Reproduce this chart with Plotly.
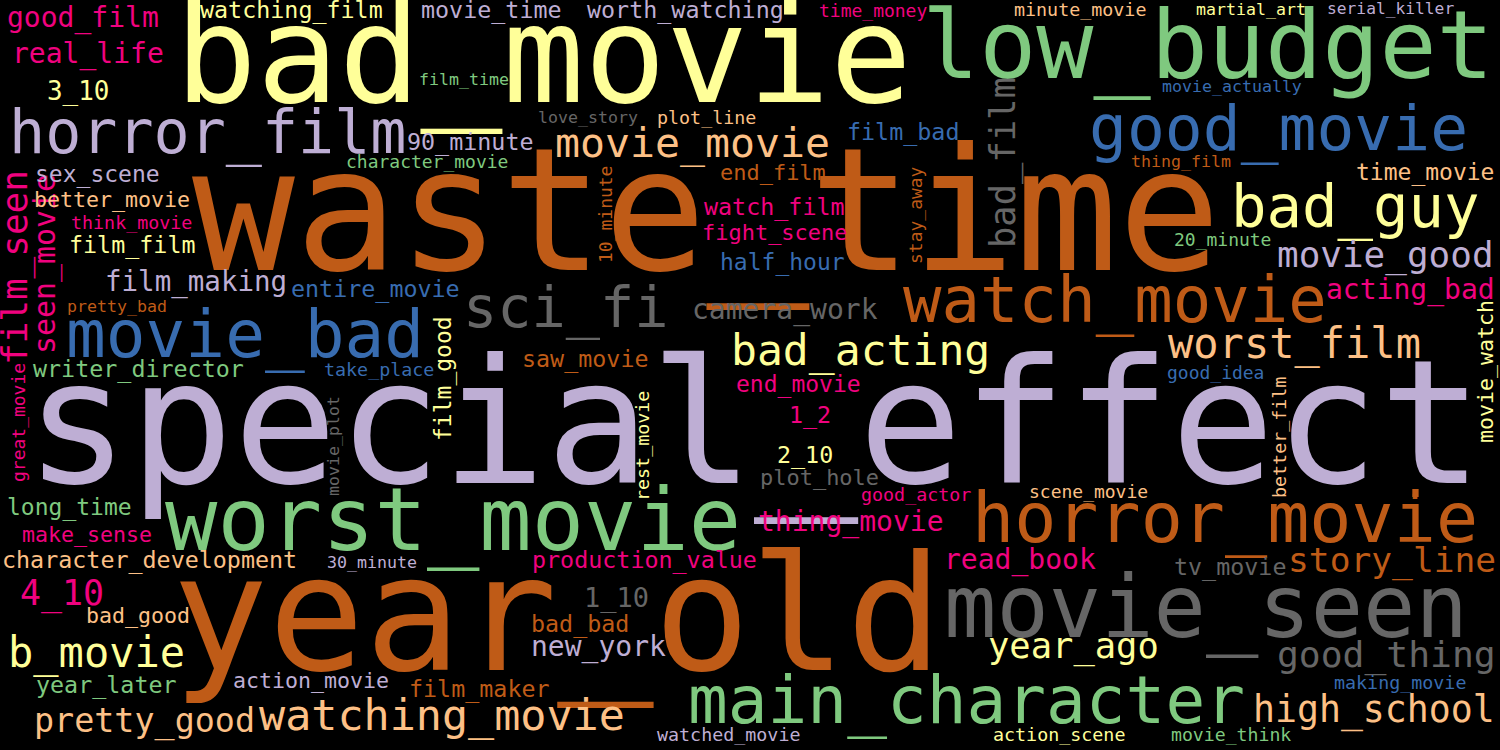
import plotly.graph_objects as go

# word list and relative weights (1.0 = biggest word)
words = [
    "special_effect", "waste_time", "year_old", "bad_movie", "low_budget",
    "worst_movie", "movie_seen", "horror_movie", "main_character", "movie_bad",
    "watch_movie", "good_movie", "horror_film", "bad_guy", "sci_fi",
    "watching_movie", "bad_acting", "worst_film", "b_movie", "movie_movie",
    "movie_good", "high_school", "good_thing", "film_seen", "bad_film",
    "year_ago", "4_10", "story_line", "pretty_good", "seen_movie",
    "good_film", "real_life", "camera_work", "acting_bad", "read_book",
    "thing_movie", "new_york", "film_making", "1_10", "3_10",
    "watching_film", "movie_time", "worth_watching", "90_minute", "film_bad",
    "film_film", "watch_film", "entire_movie", "writer_director", "saw_movie",
    "character_development", "production_value", "tv_movie", "bad_bad", "year_later",
    "film_maker", "1_2", "2_10", "long_time", "sex_scene",
    "time_movie", "half_hour", "end_movie", "film_good",
    "end_film", "fight_scene", "plot_hole",
    "make_sense", "bad_good", "better_movie", "action_movie", "movie_watch",
    "character_movie", "think_movie", "time_money", "minute_movie", "plot_line",
    "take_place", "good_idea", "good_actor", "scene_movie", "20_minute",
    "watched_movie", "action_scene", "movie_think", "making_movie", "10_minute",
    "stay_away", "better_film", "rest_movie", "great_movie",
    "martial_art", "serial_killer", "film_time", "movie_actually", "love_story",
    "thing_film", "pretty_bad", "30_minute", "movie_plot",
]
weights = [
    1.000, 0.988, 0.925, 0.786, 0.549,
    0.503, 0.503, 0.405, 0.382, 0.382,
    0.370, 0.364, 0.347, 0.341, 0.329,
    0.251, 0.249, 0.243, 0.243, 0.240,
    0.208, 0.211, 0.210, 0.208, 0.205,
    0.205, 0.202, 0.200, 0.193, 0.173,
    0.162, 0.162, 0.162, 0.162, 0.162,
    0.162, 0.162, 0.159, 0.156, 0.150,
    0.135, 0.135, 0.135, 0.135, 0.135,
    0.135, 0.135, 0.135, 0.135, 0.135,
    0.135, 0.135, 0.135, 0.135, 0.135,
    0.135, 0.135, 0.135, 0.133, 0.133,
    0.133, 0.133, 0.133, 0.133,
    0.127, 0.127, 0.127,
    0.125, 0.125, 0.125, 0.125, 0.125,
    0.104, 0.106, 0.104, 0.106, 0.106,
    0.106, 0.104, 0.106, 0.104, 0.104,
    0.106, 0.106, 0.105, 0.106, 0.104,
    0.104, 0.106, 0.106, 0.104,
    0.096, 0.094, 0.096, 0.096, 0.096,
    0.096, 0.096, 0.096, 0.096,
]
# stray dots left in the cloud
dots = [".", ".", "."]
dot_weights = [0.46, 0.24, 0.21]

MAX_FONT = 173
palette = {
    "green": "#7fc97f", "lav": "#beaed4", "peach": "#fdc086", "yellow": "#ffff99",
    "blue": "#386cb0", "pink": "#f0027f", "brown": "#bf5b17", "gray": "#666666",
}

# where each word sits: centre x, centre y (px from top), colour, vertical?
placement = {
    "special_effect": (754, 423, "lav", False),
    "waste_time": (706, 210, "brown", False),
    "year_old": (557, 614, "brown", False),
    "bad_movie": (543, 55, "yellow", False),
    "low_budget": (1208, 45, "green", False),
    "worst_movie": (453, 520, "green", False),
    "movie_seen": (1206, 607, "gray", False),
    "horror_movie": (1225, 518, "brown", False),
    "main_character": (966, 700, "green", False),
    "movie_bad": (245, 334, "blue", False),
    "watch_movie": (1115, 300, "brown", False),
    "good_movie": (1278, 128, "blue", False),
    "horror_film": (207, 132, "lav", False),
    "bad_guy": (1355, 206, "yellow", False),
    "sci_fi": (566, 307, "gray", False),
    "watching_movie": (442, 715, "peach", False),
    "bad_acting": (860, 350, "yellow", False),
    "worst_film": (1294, 343, "peach", False),
    "b_movie": (96, 652, "yellow", False),
    "movie_movie": (692, 142, "peach", False),
    "movie_good": (1385, 255, "lav", False),
    "high_school": (1374, 710, "peach", False),
    "good_thing": (1386, 654, "gray", False),
    "film_seen": (15, 268, "pink", True),
    "bad_film": (1003, 163, "gray", True),
    "year_ago": (1073, 646, "yellow", False),
    "4_10": (62, 593, "pink", False),
    "story_line": (1392, 560, "brown", False),
    "pretty_good": (144, 721, "peach", False),
    "seen_movie": (45, 264, "pink", True),
    "good_film": (83, 18, "pink", False),
    "real_life": (88, 54, "pink", False),
    "camera_work": (785, 310, "gray", False),
    "acting_bad": (1410, 290, "pink", False),
    "read_book": (1020, 560, "pink", False),
    "thing_movie": (851, 522, "pink", False),
    "new_york": (598, 647, "lav", False),
    "film_making": (196, 282, "lav", False),
    "1_10": (616, 598, "gray", False),
    "3_10": (78, 91, "yellow", False),
    "watching_film": (291, 10, "yellow", False),
    "movie_time": (491, 10, "lav", False),
    "worth_watching": (685, 10, "lav", False),
    "90_minute": (470, 142, "lav", False),
    "film_bad": (903, 132, "blue", False),
    "film_film": (132, 245, "yellow", False),
    "watch_film": (774, 207, "pink", False),
    "entire_movie": (375, 289, "blue", False),
    "writer_director": (138, 369, "green", False),
    "saw_movie": (585, 359, "brown", False),
    "character_development": (149, 560, "peach", False),
    "production_value": (644, 560, "pink", False),
    "tv_movie": (1230, 567, "gray", False),
    "bad_bad": (580, 624, "brown", False),
    "year_later": (106, 685, "green", False),
    "film_maker": (479, 689, "brown", False),
    "1_2": (810, 415, "pink", False),
    "2_10": (805, 455, "yellow", False),
    "long_time": (69, 507, "green", False),
    "sex_scene": (97, 174, "lav", False),
    "time_movie": (1425, 172, "peach", False),
    "half_hour": (782, 262, "blue", False),
    "end_movie": (798, 384, "pink", False),
    "film_good": (443, 379, "yellow", True),
    "end_film": (773, 172, "brown", False),
    "fight_scene": (775, 232, "pink", False),
    "plot_hole": (819, 477, "gray", False),
    "make_sense": (87, 534, "pink", False),
    "bad_good": (138, 615, "peach", False),
    "better_movie": (112, 199, "peach", False),
    "action_movie": (311, 680, "lav", False),
    "movie_watch": (1485, 372, "yellow", True),
    "character_movie": (427, 161, "green", False),
    "think_movie": (131, 222, "pink", False),
    "time_money": (873, 10, "pink", False),
    "minute_movie": (1080, 9, "peach", False),
    "plot_line": (706, 117, "peach", False),
    "take_place": (379, 369, "blue", False),
    "good_idea": (1215, 372, "blue", False),
    "good_actor": (916, 494, "pink", False),
    "scene_movie": (1088, 491, "peach", False),
    "20_minute": (1222, 239, "green", False),
    "watched_movie": (728, 734, "lav", False),
    "action_scene": (1059, 734, "yellow", False),
    "movie_think": (1231, 734, "green", False),
    "making_movie": (1400, 682, "blue", False),
    "10_minute": (605, 215, "brown", True),
    "stay_away": (915, 215, "brown", True),
    "better_film": (1279, 438, "peach", True),
    "rest_movie": (642, 446, "yellow", True),
    "great_movie": (18, 423, "pink", True),
    "martial_art": (1251, 9, "yellow", False),
    "serial_killer": (1390, 8, "lav", False),
    "film_time": (464, 79, "green", False),
    "movie_actually": (1232, 86, "blue", False),
    "love_story": (588, 117, "gray", False),
    "thing_film": (1181, 161, "brown", False),
    "pretty_bad": (117, 306, "brown", False),
    "30_minute": (372, 562, "lav", False),
    "movie_plot": (333, 446, "gray", True),
}
dot_placement = [(795, -12, "yellow"), (663, 479, "green"), (1415, 486, "brown")]

fig = go.Figure()

# invisible trace so the axes exist
fig.add_trace(go.Scatter(x=[0, 1500], y=[0, 750], mode="markers",
                         marker=dict(opacity=0), hoverinfo="skip", showlegend=False))

annotations = []
for w, wt in zip(words, weights):
    x, y, col, vert = placement[w]
    annotations.append(dict(
        x=x, y=y, xref="x", yref="y", text=w, showarrow=False,
        xanchor="center", yanchor="middle", textangle=-90 if vert else 0,
        font=dict(family="DejaVu Sans Mono", size=wt * MAX_FONT, color=palette[col]),
    ))
for d, wt, (x, y, col) in zip(dots, dot_weights, dot_placement):
    annotations.append(dict(
        x=x, y=y, xref="x", yref="y", text=d, showarrow=False,
        xanchor="center", yanchor="middle",
        font=dict(family="DejaVu Sans Mono", size=wt * MAX_FONT, color=palette[col]),
    ))

fig.update_layout(
    width=1500, height=750,
    margin=dict(l=0, r=0, t=0, b=0),
    paper_bgcolor="black", plot_bgcolor="black",
    xaxis=dict(range=[0, 1500], visible=False, fixedrange=True),
    yaxis=dict(range=[750, 0], visible=False, fixedrange=True),
    annotations=annotations,
    showlegend=False,
)

# drop the page's default body margin so the cloud fills the window
fig.write_html(
    "out.html",
    config={"displayModeBar": False},
    post_script="document.body.style.margin='0';document.body.style.background='black';",
)
